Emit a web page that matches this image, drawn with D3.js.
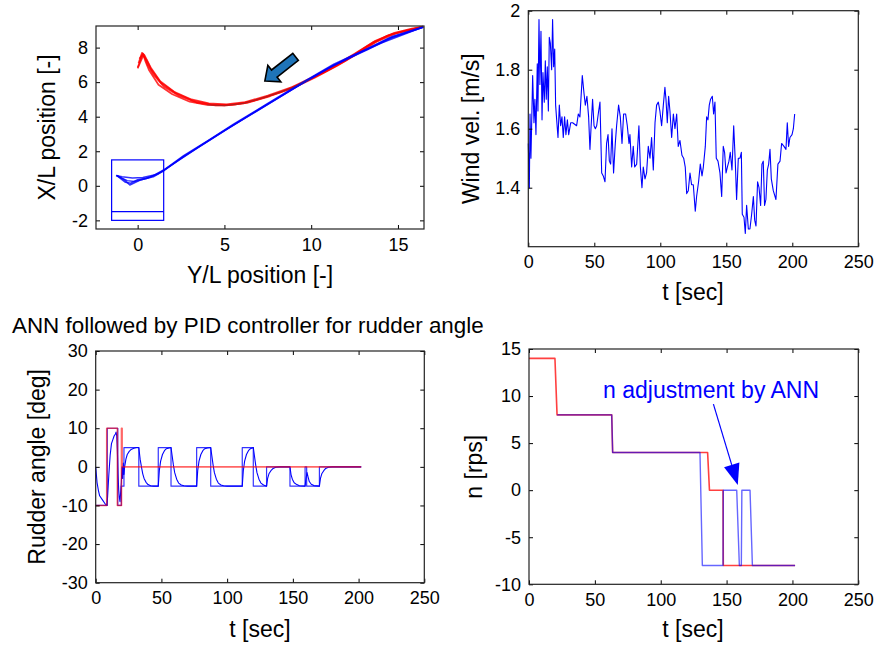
<!DOCTYPE html>
<html>
<head>
<meta charset="utf-8">
<script src="https://cdn.jsdelivr.net/npm/d3@7"></script>
<style>
body{margin:0;background:#fff;}
</style>
</head>
<body>
<div class="canvas"></div>
<script>
// ---- data: trajectory (top left) ----
const redPathA = [[0,6.85],[0.3,7.65],[0.45,7.2],[0.65,6.7],[1.2,5.85],[2,5.3],[3,4.87],[4,4.68],[5,4.64],[6.1,4.77],[7.4,5.15],[8.8,5.63],[10,6.2],[11.3,6.88],[12.4,7.55],[13.6,8.32],[14.7,8.8],[15.7,9.04],[16.45,9.2]];
const redPathB = [[0.05,7.1],[0.25,7.7],[0.4,7.55],[0.75,6.85],[1.3,6.05],[2.1,5.45],[3.1,5.0],[4.1,4.78],[5.1,4.72],[6.2,4.85],[7.5,5.22],[8.9,5.72],[10.1,6.3],[11.4,7.0],[12.5,7.65],[13.7,8.4],[14.8,8.86],[15.8,9.1],[16.45,9.22]];
const redPathC = [[0.1,7.35],[0.28,7.6],[0.5,7.3],[0.8,6.7],[1.35,5.95],[2.2,5.36],[3.2,4.92],[4.2,4.72],[5.2,4.68],[6.3,4.8],[7.6,5.18],[9,5.68],[10.2,6.26],[11.5,6.95],[12.6,7.6],[13.8,8.36],[14.9,8.83],[16.45,9.21]];
const redPathD = [[0,6.8],[0.35,7.6],[0.55,7.05],[0.9,6.45],[1.5,5.75],[2.4,5.2],[3.4,4.82],[4.5,4.66],[5.6,4.7],[6.8,4.95],[8.2,5.4],[9.5,5.95],[10.7,6.55],[12,7.25],[13.2,8.05],[14.4,8.7],[16.45,9.2]];
const bluePathA = [[-1.2,0.6],[-0.75,0.33],[-0.45,0.05],[0.15,0.33],[0.9,0.52],[1.55,0.9],[2.6,1.67],[4,2.54],[5.5,3.5],[7.4,4.66],[9.3,5.82],[11.3,6.98],[13.2,7.85],[14.7,8.6],[16.45,9.17]];
const bluePathB = [[-1.25,0.6],[-0.9,0.52],[-0.3,0.45],[0.3,0.48],[0.95,0.62],[1.6,0.98],[2.65,1.75],[4.05,2.62],[5.55,3.58],[7.45,4.74],[9.35,5.9],[11.3,7.04],[13.2,7.92],[14.7,8.66],[16.45,9.2]];
const bluePathC = [[-1.2,0.58],[-0.6,0.3],[-0.2,0.25],[0.5,0.42],[1.2,0.7],[2.1,1.3],[3.5,2.22],[5,3.2],[6.5,4.1],[8.4,5.26],[10.3,6.42],[12.2,7.45],[14,8.25],[16.45,9.19]];
const bluePathD = [[-1.22,0.6],[-0.7,0.2],[-0.4,0.15],[0,0.35],[0.7,0.5],[1.4,0.82],[2.4,1.52],[3.8,2.44],[5.2,3.32],[7,4.44],[9,5.64],[11,6.82],[12.8,7.7],[14.5,8.54],[16.45,9.18]];
const shipBox = [-1.5, 1.5, -2, 1.5];   // x0, x1, y0, y1
const shipLine = -1.5;
const trajArrow = [[7.33,6.07],[9.1,7.46]]; // tip, tail
const trajXTicks = [0,5,10,15];
const trajYTicks = [-2,0,2,4,6,8];

// ---- data: wind velocity (top right) ----
const windT = [0,0.8,1.3,2,3.3,4.3,5,5.8,6.8,7.3,8.1,8.8,9.6,10.4,11.1,12.1,12.9,13.6,14.4,15.2,15.9,16.7,17.7,18.4,19.2,20,20.7,21.5,22.5,23.5,24.5,25.5,26.5,27.5,28.5,29.6,30.6,32.1,33.6,36.6,37.9,39.1,40.9,42.2,43.2,44.4,45.7,46.7,47.5,48.7,49.8,50.8,51.8,53.3,54.3,55.6,56.8,58.1,59.3,60.4,61.4,62.4,63.4,64.6,65.9,66.9,68.4,69.7,71,72.2,73.7,75,76.3,77,78.3,79.5,80.6,82.1,83.8,84.9,86.1,87.1,88.4,89.6,90.9,92.2,93.4,94.7,96,97.2,98.5,99.7,101,102.3,103.5,104.3,105.3,106.3,107.3,108.6,109.9,111.1,112.4,113.6,114.9,116.4,117.7,118.9,120,121.2,122.5,123.7,125,126.5,127.5,129,130.3,131.6,132.6,134.1,135.1,136.1,137.1,138.1,139.4,140.4,141.4,142.4,143.7,145.2,146.5,147.7,148.7,149.8,150.8,152,153,154.3,155.6,156.8,157.8,159.1,160.4,161.4,162.1,163.4,164.4,165.4,166.7,167.9,169.2,170.5,171.5,172.5,173.7,174.8,176,177,178,179,180,181.1,182.1,183.1,184.1,185.6,187.6,189.1,190.7,191.9,193.7,195.2,196.2,197.2,198.2,199.8,200.8,201.8];
const windV = [1.55,1.40,1.65,1.50,1.78,1.62,1.70,1.58,1.82,1.66,1.97,1.75,1.93,1.63,1.79,1.69,1.83,1.70,1.81,1.66,1.91,1.89,1.80,1.97,1.81,1.87,1.68,1.63,1.57,1.68,1.61,1.64,1.57,1.64,1.58,1.63,1.58,1.62,1.62,1.61,1.65,1.64,1.78,1.72,1.68,1.71,1.64,1.53,1.60,1.70,1.61,1.60,1.61,1.66,1.69,1.45,1.44,1.42,1.55,1.58,1.49,1.48,1.60,1.45,1.55,1.61,1.68,1.64,1.55,1.65,1.65,1.61,1.55,1.58,1.47,1.54,1.47,1.48,1.61,1.47,1.40,1.47,1.43,1.45,1.54,1.50,1.57,1.46,1.62,1.68,1.69,1.66,1.61,1.68,1.74,1.70,1.62,1.71,1.66,1.57,1.65,1.60,1.65,1.54,1.56,1.51,1.50,1.47,1.38,1.39,1.45,1.41,1.41,1.32,1.37,1.42,1.48,1.44,1.47,1.54,1.64,1.63,1.68,1.70,1.71,1.65,1.69,1.50,1.49,1.45,1.37,1.54,1.52,1.45,1.47,1.49,1.52,1.46,1.61,1.49,1.36,1.50,1.50,1.52,1.31,1.30,1.245,1.34,1.26,1.26,1.31,1.37,1.29,1.27,1.42,1.40,1.34,1.48,1.49,1.34,1.36,1.46,1.48,1.53,1.43,1.39,1.36,1.48,1.49,1.55,1.54,1.53,1.62,1.54,1.57,1.58,1.60,1.65];
const timeTicks = [0,50,100,150,200,250];
const windYTicks = [1.4,1.6,1.8,2];

// ---- data: rudder angle (bottom left) ----
const rudRed = [[0,-10],[8.4,-10],[8.4,10],[16.5,10],[16.5,-10],[19.6,-10],[19.6,10],[20.1,10],[20.1,0],[202,0]];
const rudSquare = [[0,-10],[8.8,-10],[8.8,10],[16.8,10],[16.8,-10],[19.5,-10],[19.5,-5],[21.5,-5],[21.5,5],[32.8,5],[32.8,-5],[47.6,-5],[47.6,5],[57.3,5],[57.3,-5],[76.8,-5],[76.8,5],[87.5,5],[87.5,-5],[111.5,-5],[111.5,5],[119.9,5],[119.9,-5],[130,-5],[130,0],[147.8,0],[147.8,-5],[159.3,-5],[159.3,0],[160.5,0],[160.5,-5],[170.2,-5],[170.2,0],[202,0]];
const rudResp = [[0,0],[1,-4],[2,-6],[3,-7.5],[5,-8.5],[7,-9.5],[8.5,-10],[9,-8],[10,-2],[11,3],[12,6],[13,7],[14,8],[15,8.5],[15.5,9],[16,8],[16.5,4],[17,-2],[17.5,-6],[18,-8],[18.5,-9],[19.5,-4],[20,0],[20.5,-3],[21,1],[21.5,-2],[22,0],[23,2],[24,3.2],[25.5,4],[27,4.5],[29,4.8],[31,5],[32.8,5],[33.8,2],[34.8,0],[35.8,-1.8],[36.8,-3],[38.3,-4],[39.8,-4.6],[41.8,-4.9],[44,-5],[47.6,-5],[48.4,-1],[49.4,1.5],[50.8,3.2],[52.3,4.2],[53.8,4.7],[55.8,4.9],[57.3,5],[58.1,3],[59.1,0.5],[60.1,-1.5],[61.6,-3.2],[63.1,-4.2],[65.1,-4.7],[67.1,-4.9],[70,-5],[76.8,-5],[77.6,-1],[78.6,1.5],[80,3.2],[81.5,4.2],[83,4.7],[85,4.9],[87.5,5],[88.3,3],[89.3,0.5],[90.3,-1.5],[91.8,-3.2],[93.3,-4.2],[95.3,-4.7],[97.3,-4.9],[100,-5],[111.5,-5],[112.3,-1],[113.3,1.5],[114.7,3.2],[116.2,4.2],[117.7,4.7],[119.9,5],[120.7,3],[121.7,0.5],[122.7,-1.5],[124.2,-3.2],[125.7,-4.2],[127.7,-4.7],[130,-5],[130.8,-3],[131.8,-1.8],[133.3,-1],[135,-0.4],[137,-0.1],[140,0],[147.8,0],[148.6,-2],[149.6,-3.2],[151,-4.1],[153,-4.6],[155,-4.9],[159.3,-5],[160,-3],[160.8,-1.5],[161.5,-2.5],[162.5,-3.8],[164,-4.5],[166,-4.85],[170.2,-5],[171,-3],[172,-1.8],[173.5,-1],[175,-0.4],[177,-0.1],[180,0],[202,0]];
const rudYTicks = [-30,-20,-10,0,10,20,30];

// ---- data: propeller revs (bottom right) ----
const nRed = [[0,14],[19.7,14],[21.3,8],[62.8,8],[63.5,4],[135.6,4],[137,0],[147.3,0],[147.5,-8],[202,-8]];
const nBlue = [[21.3,8],[62.8,8],[63.5,4],[129.8,4],[131.6,-8],[147.3,-8],[147.5,0],[157.7,0],[159.7,-8],[161.2,-8],[161.6,0],[167.8,0],[169.6,-8],[202,-8]];
const nYTicks = [-10,-5,0,5,10,15];
const nNote = [56.2, 9.79];            // text anchor
const nArrow = [[140,9.15],[158.5,0.55]]; // tail, tip

const font = '"Liberation Sans", Arial, Helvetica, sans-serif';

const svg = d3.select('.canvas').append('svg')
  .attr('width',877).attr('height',648)
  .style('font-family',font);
svg.append('rect').attr('width',877).attr('height',648).attr('fill','#fff');

const fmt = d => String(d);

// one MATLAB-style axes
const panel = (box, xDom, yDom, xTicks, yTicks) => {
  const x = d3.scaleLinear().domain(xDom).range([box.x0, box.x1]);
  const y = d3.scaleLinear().domain(yDom).range([box.y1, box.y0]);
  const g = svg.append('g');
  const lines = g.append('g');
  const ax = g.append('g');

  const styleAxis = sel => {
    sel.attr('font-family',font).attr('font-size',18);
    sel.select('.domain').remove();
    sel.selectAll('.tick line').attr('stroke','#000');
    sel.selectAll('.tick text').attr('fill','#000');
  };
  ax.append('g').attr('transform',`translate(0,${box.y1})`)
    .call(d3.axisBottom(x).tickValues(xTicks).tickSizeInner(-4).tickSizeOuter(0).tickPadding(9).tickFormat(fmt))
    .call(styleAxis);
  ax.append('g').attr('transform',`translate(0,${box.y0})`)
    .call(d3.axisTop(x).tickValues(xTicks).tickSizeInner(-4).tickSizeOuter(0).tickFormat(''))
    .call(styleAxis);
  ax.append('g').attr('transform',`translate(${box.x0},0)`)
    .call(d3.axisLeft(y).tickValues(yTicks).tickSizeInner(-4).tickSizeOuter(0).tickPadding(8).tickFormat(fmt))
    .call(styleAxis);
  ax.append('g').attr('transform',`translate(${box.x1},0)`)
    .call(d3.axisRight(y).tickValues(yTicks).tickSizeInner(-4).tickSizeOuter(0).tickFormat(''))
    .call(styleAxis);
  ax.append('rect')
    .attr('x',box.x0).attr('y',box.y0)
    .attr('width',box.x1-box.x0).attr('height',box.y1-box.y0)
    .attr('fill','none').attr('stroke','#222').attr('stroke-width',1.2);
  return {x, y, lines, g};
};

const xLabel = (p, txt, cx, yb) => svg.append('text')
  .attr('x',cx).attr('y',yb).attr('text-anchor','middle')
  .attr('font-size',23).attr('fill','#000').text(txt);
const yLabel = (txt, xb, cy) => svg.append('text')
  .attr('transform',`translate(${xb},${cy}) rotate(-90)`)
  .attr('text-anchor','middle')
  .attr('font-size',23).attr('fill','#000').text(txt);

const addLine = (p, data, color, width, opacity) => {
  const line = d3.line().x(d => p.x(d[0])).y(d => p.y(d[1]));
  p.lines.append('path').attr('d',line(data))
    .attr('fill','none').attr('stroke',color)
    .attr('stroke-width',width).attr('stroke-opacity',opacity || 1)
    .attr('stroke-linejoin','round');
};

//---------------- top left: trajectory
const tl = panel({x0:96,x1:424,y0:26,y1:229},[-2.4,16.5],[-2.5,9.25],trajXTicks,trajYTicks);
[redPathA,redPathB,redPathC,redPathD].forEach(d => addLine(tl,d,'#ff0000',1.7,0.8));
[bluePathA,bluePathB,bluePathC,bluePathD].forEach(d => addLine(tl,d,'#0000ff',1.5,0.8));
addLine(tl, redPathA.filter(d => d[0] > 3.5 && d[0] < 11), '#444', 0.8, 0.6);

tl.lines.append('rect')
  .attr('x',tl.x(shipBox[0])).attr('y',tl.y(shipBox[3]))
  .attr('width',tl.x(shipBox[1])-tl.x(shipBox[0]))
  .attr('height',tl.y(shipBox[2])-tl.y(shipBox[3]))
  .attr('fill','none').attr('stroke','#0000ff').attr('stroke-width',1.2);
addLine(tl,[[shipBox[0],shipLine],[shipBox[1],shipLine]],'#0000ff',1.2);

// block arrow
{
  const tip = [tl.x(trajArrow[0][0]), tl.y(trajArrow[0][1])];
  const tail = [tl.x(trajArrow[1][0]), tl.y(trajArrow[1][1])];
  const len = Math.hypot(tail[0]-tip[0], tail[1]-tip[1]);
  const u = [(tail[0]-tip[0])/len, (tail[1]-tip[1])/len];
  const n = [-u[1], u[0]];
  const hl = 12, hw = 10.5, sw = 4.5;
  const pt = (a, b) => [tip[0]+u[0]*a+n[0]*b, tip[1]+u[1]*a+n[1]*b];
  const pts = [pt(0,0), pt(hl,hw), pt(hl,sw), pt(len,sw), pt(len,-sw), pt(hl,-sw), pt(hl,-hw)];
  tl.g.append('polygon').attr('points',pts.map(p => p.join(',')).join(' '))
    .attr('fill','#1f74b8').attr('stroke','#000').attr('stroke-width',1.6)
    .attr('stroke-linejoin','miter');
}
xLabel(tl,'Y/L position [-]',260,283);
yLabel('X/L position [-]',55,127.5);

//---------------- top right: wind
const tr = panel({x0:528.3,x1:858.3,y0:10.7,y1:246.7},[0,250],[1.2,2],timeTicks,windYTicks);
addLine(tr, d3.zip(windT, windV), '#0000ff', 1.1);
xLabel(tr,'t [sec]',693,300);
yLabel('Wind vel. [m/s]',479,128.7);

//---------------- bottom left: rudder
svg.append('text').attr('x',12).attr('y',333).attr('font-size',22.4).attr('fill','#000')
  .text('ANN followed by PID controller for rudder angle');
const bl = panel({x0:95.7,x1:424.3,y0:351,y1:582.7},[0,250],[-30,30],timeTicks,rudYTicks);
addLine(bl, rudSquare, '#0000ff', 1.2, 0.8);
addLine(bl, rudResp, '#0000ff', 1.1);
addLine(bl, rudRed, '#ff0000', 1.6, 0.6);
xLabel(bl,'t [sec]',260,637);
yLabel('Rudder angle [deg]',45,466.9);

//---------------- bottom right: n
const br = panel({x0:529,x1:858.3,y0:349,y1:584.3},[0,250],[-10,15],timeTicks,nYTicks);
addLine(br, nRed, '#ff0000', 1.6, 0.75);
addLine(br, nBlue, '#0000ff', 1.4, 0.6);
br.g.append('text').attr('x',br.x(nNote[0])).attr('y',br.y(nNote[1]))
  .attr('font-size',23).attr('fill','#0000ff').text('n adjustment by ANN');
{
  const t0 = [br.x(nArrow[0][0]), br.y(nArrow[0][1])];
  const t1 = [br.x(nArrow[1][0]), br.y(nArrow[1][1])];
  const len = Math.hypot(t1[0]-t0[0], t1[1]-t0[1]);
  const u = [(t1[0]-t0[0])/len, (t1[1]-t0[1])/len];
  const n = [-u[1], u[0]];
  const hl = 21, hw = 8;
  const b = [t1[0]-u[0]*hl, t1[1]-u[1]*hl];
  br.g.append('line').attr('x1',t0[0]).attr('y1',t0[1]).attr('x2',b[0]).attr('y2',b[1])
    .attr('stroke','#0000ff').attr('stroke-width',1.2);
  br.g.append('polygon')
    .attr('points',[t1,[b[0]+n[0]*hw,b[1]+n[1]*hw],[b[0]-n[0]*hw,b[1]-n[1]*hw]].map(p => p.join(',')).join(' '))
    .attr('fill','#0000ff');
}
xLabel(br,'t [sec]',693,637);
yLabel('n [rps]',482,466.7);
</script>
</body>
</html>
